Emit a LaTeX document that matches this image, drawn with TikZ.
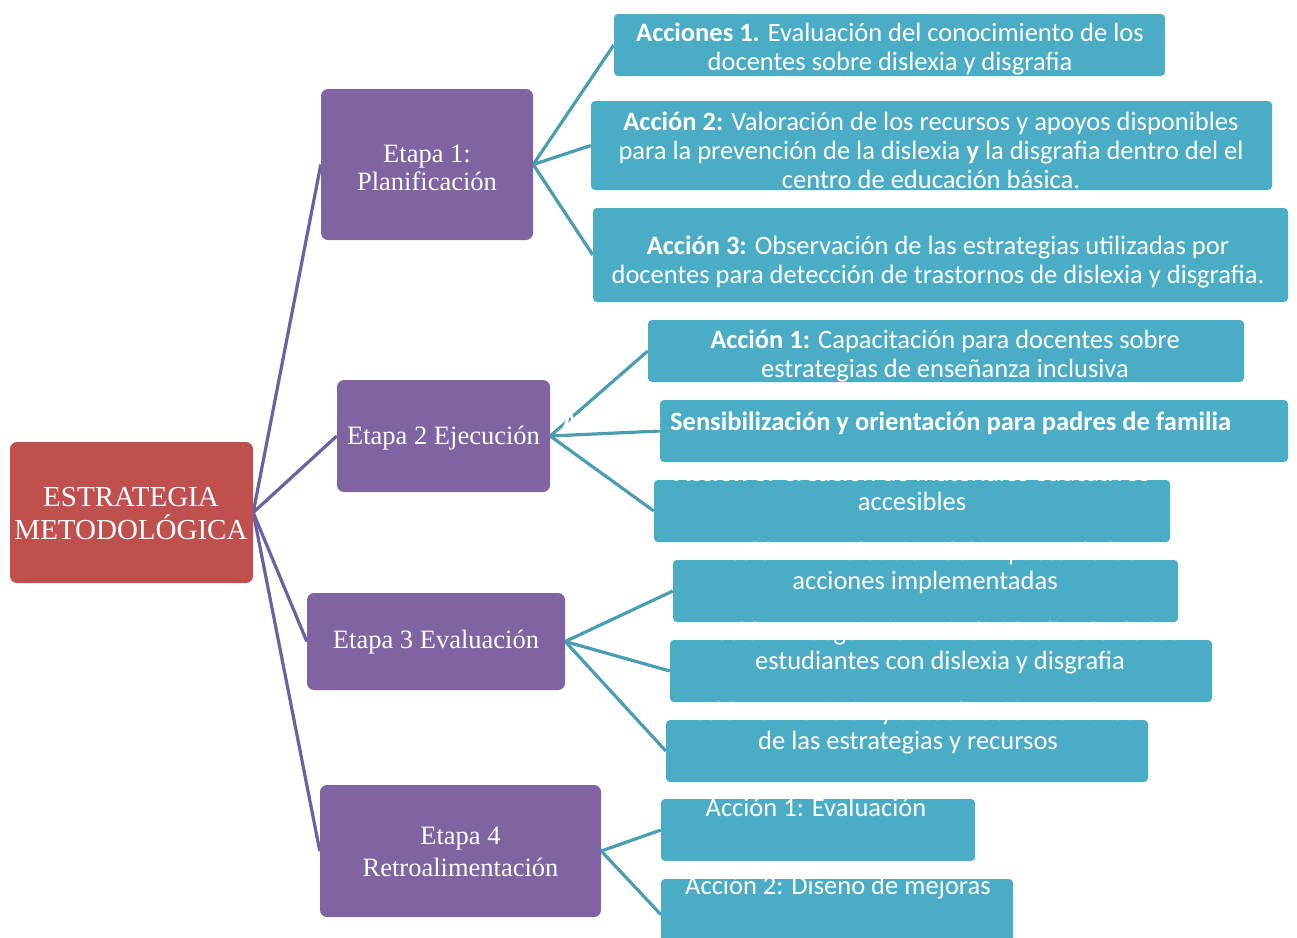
\documentclass[tikz,border=0pt]{standalone}
\usepackage{fontspec}
\setmainfont{Liberation Serif}
\newfontfamily\calfont{Carlito}
\usetikzlibrary{backgrounds}
\definecolor{rootred}{HTML}{C0504D}
\definecolor{etpurple}{HTML}{8064A2}
\definecolor{actteal}{HTML}{4BACC6}
\definecolor{linepurple}{HTML}{6B5FA6}
\definecolor{lineteal}{HTML}{4A9EB1}
\tikzset{
  rootbox/.style={fill=rootred, rounded corners=7pt, inner sep=0pt},
  roottext/.style={text=white, align=center, inner sep=0pt, font=\fontsize{29}{33}\selectfont},
  etbox/.style={fill=etpurple, rounded corners=7pt, inner sep=0pt},
  ettext/.style={text=white, align=center, inner sep=0pt, font=\fontsize{26.5}{28.5}\selectfont},
  actbox/.style={fill=actteal, rounded corners=4pt, inner sep=0pt},
  acttext/.style={text=white, align=center, inner sep=0pt,
     font=\calfont\fontsize{26.5}{29}\selectfont},
  plink/.style={draw=linepurple, line width=3.2pt},
  tlink/.style={draw=lineteal, line width=3.2pt},
}
\newcommand{\boxat}[6]{% style, name, x1, y1, x2, y2
  \node[#1, minimum width={#5-#3}, minimum height={#6-#4}] (#2) at ({(#3+#5)/2},{(#4+#6)/2}) {};}
\begin{document}
\begin{tikzpicture}[x=1pt,y=-1pt]
\useasboundingbox (0,0) rectangle (1297,937);

% root
\boxat{rootbox}{root}{10}{442}{253}{583}
\node[roottext] (rtext) at (131,514) {ESTRATEGIA\\METODOLÓGICA};

% stages
\boxat{etbox}{e1}{321}{89}{533}{240}
\boxat{etbox}{e2}{337}{380}{550}{492}
\boxat{etbox}{e3}{307}{593}{565}{690}
\boxat{etbox}{e4}{320}{785}{601}{917}
\node[ettext] (e1t) at (427,168) {Etapa 1:\\Planificación};
\node[ettext] (e2t) at (443.5,438) {Etapa 2 Ejecución};
\node[ettext] (e3t) at (436,642) {Etapa 3 Evaluación};
\node[ettext, font=\fontsize{26.5}{32}\selectfont] (e4t) at (460.5,852) {Etapa 4\\Retroalimentación};

% action boxes
\boxat{actbox}{a11}{614}{14}{1165}{76}
\boxat{actbox}{a12}{591}{101}{1272}{190}
\boxat{actbox}{a13}{593}{208}{1288}{302}
\boxat{actbox}{a21}{648}{320}{1244}{382}
\boxat{actbox}{a22}{660}{400}{1288}{462}
\boxat{actbox}{a23}{654}{480}{1170}{542}
\boxat{actbox}{a31}{673}{560}{1178}{622}
\boxat{actbox}{a32}{670}{640}{1212}{702}
\boxat{actbox}{a33}{666}{720}{1148}{782}
\boxat{actbox}{a41}{661}{799}{975}{861}
\boxat{actbox}{a42}{661}{879}{1013}{950}

% action texts
\node[acttext] (t11) at (890,49) {\textbf{Acciones 1.} Evaluación del conocimiento de los\\docentes sobre dislexia y disgrafia};
\node[acttext] (t12) at (931,150) {\textbf{Acción 2:} Valoración de los recursos y apoyos disponibles\\para la prevención de la dislexia \textbf{y} la disgrafia dentro del el\\centro de educación básica.};
\node[acttext] (t13) at (938,262) {\textbf{Acción 3:} Observación de las estrategias utilizadas por\\docentes para detección de trastornos de dislexia y disgrafia.};
\node[acttext] (t21) at (945,356) {\textbf{Acción 1:} Capacitación para docentes sobre\\estrategias de enseñanza inclusiva};
\node[acttext, anchor=west] (t22) at (562,423) {\textbf{Acción 2: Sensibilización y orientación para padres de familia}};
\node[acttext] (t23) at (912,487) {\textbf{Acción 3:} Creación de materiales educativos\\accesibles};
\node[acttext] (t31) at (925,568) {\textbf{Acción 1:} Evaluación del impacto de las\\acciones implementadas};
\node[acttext] (t32) at (940,648) {\textbf{Acción 2:} Seguimiento individualizado de los\\estudiantes con dislexia y disgrafia};
\node[acttext] (t33) at (908,728) {\textbf{Acción 3:} Revisión y actualización continua\\de las estrategias y recursos};
\node[acttext] (t41) at (816,807) {Acción 1: Evaluación};
\node[acttext] (t42) at (838,888) {Acción 2: Diseño de mejoras};

% connectors
\begin{scope}[on background layer]
\foreach \e in {e1,e2,e3,e4} \draw[plink] (root.east) -- (\e.west);
\foreach \a in {a11,a12,a13} \draw[tlink] (e1.east) -- (\a.west);
\foreach \a in {a21,a22,a23} \draw[tlink] (e2.east) -- (\a.west);
\foreach \a in {a31,a32,a33} \draw[tlink] (e3.east) -- (\a.west);
\foreach \a in {a41,a42} \draw[tlink] (e4.east) -- (\a.west);
\end{scope}
\end{tikzpicture}
\end{document}
